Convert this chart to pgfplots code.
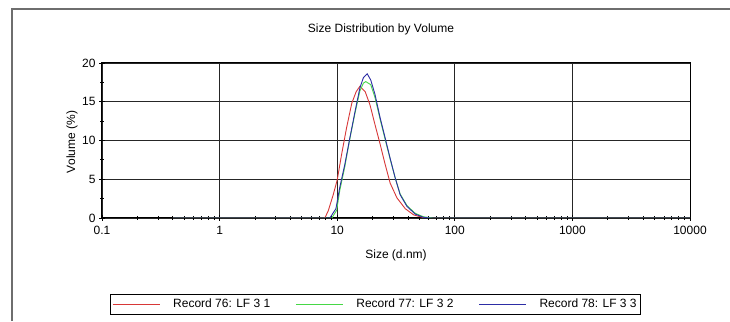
\documentclass[border=0pt]{standalone}
\usepackage{pgfplots}
\pgfplotsset{compat=1.18}
\usepackage{fontspec}
\setmainfont{Liberation Sans}
\definecolor{rred}{RGB}{215,55,55}
\definecolor{rgreen}{RGB}{70,215,70}
\definecolor{rblue}{RGB}{45,45,165}
\definecolor{framegray}{RGB}{110,110,110}
\begin{document}
\begin{tikzpicture}[x=1pt,y=1pt]
\useasboundingbox (0,0) rectangle (730,321);
\draw[framegray, line width=1.2pt] (12,0) -- (12,312) -- (730,312);
\node[font=\fontsize{12}{14}\selectfont] at (381,292) {Size Distribution by Volume};
\node[font=\fontsize{12}{14}\selectfont, rotate=90] at (72,179) {Volume (\%)};
\node[font=\fontsize{12}{14}\selectfont] at (396,66) {Size (d.nm)};
\begin{axis}[
  at={(102pt,103pt)}, anchor=south west,
  scale only axis, width=588pt, height=155pt,
  xmode=log, xmin=0.1, xmax=10000,
  ymin=0, ymax=20,
  ytick={0,5,10,15,20},
  minor ytick={2.5,7.5,12.5,17.5},
  log ticks with fixed point,
  /pgf/number format/1000 sep={},
  /pgf/number format/assume math mode=true,
  tick label style={font=\fontsize{12}{14}\selectfont},
  xticklabel style={yshift=-2pt},
  xtick={0.1,1,10,100,1000,10000},
  xticklabels={0.1,1,10,100,1000,10000},
  grid=major,
  major grid style={black!85, line width=0.9pt},
  axis line style={black, line width=1pt},
  tick style={black, line width=0.8pt},
  tick align=center,
  major tick length=6pt,
  minor tick length=4pt,
  xtick pos=bottom, ytick pos=left,
  legend columns=3,
  legend style={at={(0.0136,-0.619)}, anchor=south west,
    font=\fontsize{12}{14}\selectfont,
    inner xsep=2pt, inner ysep=2.5pt,
    /tikz/every even column/.append style={column sep=23pt}},
  every axis plot/.append style={line width=0.9pt},
]
\addplot[color=rred, legend image code/.code={\draw[rred, line width=1pt] (0pt,0pt) -- (47pt,0pt);}] coordinates {(0.4,0)(7.85,0)(8.38,0.9)(9.25,3.0)(10,4.9)(10.9,8.2)(12.0,11.6)(13.3,14.8)(14.5,16.3)(15.6,17.0)(17.3,16.3)(19.0,14.6)(21.0,12.0)(23.2,9.5)(25.6,6.9)(28.2,4.5)(32.2,2.6)(37.9,1.2)(44.7,0.4)(52.6,0.1)(58,0)(10000,0)};
\addlegendentry{\hspace*{11pt}Record 76: LF 3 1}
\addplot[color=rgreen, legend image code/.code={\draw[rgreen, line width=1pt] (0pt,0pt) -- (47pt,0pt);}] coordinates {(0.4,0)(9.0,0)(9.9,1.0)(10.5,3.5)(11.6,6.6)(12.8,10.2)(14.2,13.6)(15.6,16.4)(16.7,17.4)(17.5,17.6)(19.3,17.2)(21.0,15.5)(23.2,12.7)(25.6,10.1)(28.2,7.6)(31.1,5.2)(34.3,3.1)(39.2,1.6)(46.1,0.6)(54.3,0.15)(65,0)(10000,0)};
\addlegendentry{\hspace*{11pt}Record 77: LF 3 2}
\addplot[color=rblue, legend image code/.code={\draw[rblue, line width=1pt] (0pt,0pt) -- (47pt,0pt);}] coordinates {(0.4,0)(8.66,0)(9.75,1.2)(10.5,3.9)(11.6,6.9)(12.8,10.3)(14.2,13.8)(15.6,16.8)(16.7,18.1)(18.0,18.6)(19.3,17.8)(21.0,15.9)(23.2,12.9)(25.6,10.3)(28.2,7.7)(31.1,5.2)(34.3,3.0)(39.2,1.5)(46.1,0.5)(54.3,0.08)(62,0)(10000,0)};
\addlegendentry{\hspace*{11pt}Record 78: LF 3 3}
\end{axis}
\end{tikzpicture}
\end{document}
